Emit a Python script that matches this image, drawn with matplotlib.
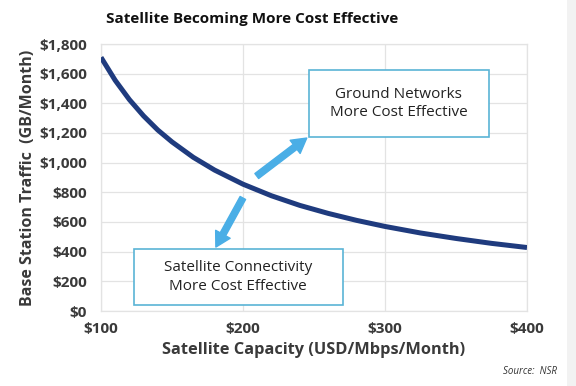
import numpy as np
import matplotlib.pyplot as plt
from matplotlib.patches import Rectangle

plt.rcParams['font.family'] = ['Open Sans', 'DejaVu Sans']

# values
capacity = [100, 110, 120, 130, 140, 150, 165, 180, 200, 220, 240, 260, 280, 300, 325, 350, 375, 400]
traffic = [1710, 1555, 1425, 1315, 1220, 1140, 1036, 950, 855, 777, 712, 658, 611, 570, 526, 489, 456, 428]

x_ticks = [100, 200, 300, 400]
y_ticks = [0, 200, 400, 600, 800, 1000, 1200, 1400, 1600, 1800]

navy = '#1F3B7E'
arrow_blue = '#4AAEE6'
box_edge = '#5AB4D6'
text_gray = '#3A3A3A'

fig = plt.figure(figsize=(5.76, 3.86), dpi=100)
fig.patch.set_facecolor('white')
# light strip on the right edge
fig.patches.append(Rectangle((567 / 576, 0), 9 / 576, 1, transform=fig.transFigure,
                             facecolor='#F2F2F2', edgecolor='none', zorder=0))

ax = fig.add_axes([101 / 576, 75 / 386, 426 / 576, 267 / 386])
ax.plot(capacity, traffic, color=navy, linewidth=3.6, solid_capstyle='butt', zorder=3)

ax.set_xlim(100, 400)
ax.set_ylim(0, 1800)
ax.set_xticks(x_ticks)
ax.set_yticks(y_ticks)
ax.set_xticklabels(['${}'.format(v) for v in x_ticks])
ax.set_yticklabels(['${:,}'.format(v) for v in y_ticks])
ax.tick_params(length=0, labelsize=11, labelcolor=text_gray)
ax.tick_params(axis='y', pad=10)
ax.tick_params(axis='x', pad=8)
for lab in ax.get_xticklabels() + ax.get_yticklabels():
    lab.set_fontweight('bold')

ax.grid(True, color='#E3E3E3', linewidth=0.9)
ax.set_axisbelow(True)
for s in ax.spines.values():
    s.set_color('#E3E3E3')
    s.set_linewidth(0.9)

ax.set_xlabel('Satellite Capacity (USD/Mbps/Month)', fontsize=11.8, fontweight='bold',
              color=text_gray, labelpad=4)
ax.set_ylabel('Base Station Traffic  (GB/Month)', fontsize=11.5, fontweight='bold',
              color=text_gray, labelpad=2)

fig.text(252 / 576, 1 - 19 / 386, 'Satellite Becoming More Cost Effective', ha='center',
         va='center', fontsize=11, fontweight='bold', color='#111111')
fig.text(557 / 576, 1 - 372 / 386, 'Source:  NSR', ha='right', va='center', fontsize=7,
         style='italic', color='#333333')

# annotation boxes
ax.add_patch(Rectangle((246.3, 1173), 126.6, 452, facecolor='white', edgecolor=box_edge,
                       linewidth=1.2, zorder=4))
ax.text(309.6, 1399, 'Ground Networks\nMore Cost Effective', ha='center', va='center',
        fontsize=11, color='#222222', linespacing=1.3, zorder=5)
ax.add_patch(Rectangle((123.2, 40), 147, 378, facecolor='white', edgecolor=box_edge,
                       linewidth=1.2, zorder=4))
ax.text(196.7, 229, 'Satellite Connectivity\nMore Cost Effective', ha='center', va='center',
        fontsize=11, color='#222222', linespacing=1.3, zorder=5)

arrow = dict(arrowstyle='simple,head_length=0.75,head_width=0.85,tail_width=0.32',
             color=arrow_blue, shrinkA=0, shrinkB=0, mutation_scale=14)
ax.annotate('', xy=(244.9, 1166), xytext=(209.7, 910), arrowprops=arrow, zorder=5)
ax.annotate('', xy=(180.9, 431), xytext=(199.9, 762), arrowprops=arrow, zorder=5)

fig.savefig('out.png', dpi=100)
